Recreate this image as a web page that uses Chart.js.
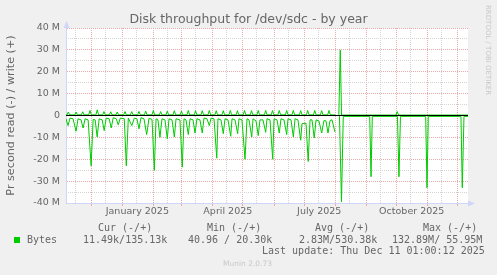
<!DOCTYPE html>
<html>
<head>
<meta charset="utf-8">
<script src="https://cdn.jsdelivr.net/npm/chart.js@4.4.1/dist/chart.umd.min.js"></script>
<style>
  html, body { margin: 0; padding: 0; background: #f0f0f0; }
  #wrap { position: relative; width: 497px; height: 275px; overflow: hidden; }
  #chart { position: absolute; left: 0; top: 0; }
  .txt { position: absolute; white-space: pre; color: #666; }
  .mono { font-family: 'DejaVu Sans Mono', monospace; font-size: 10px; line-height: 12px; }
  #title { left: 0; width: 497px; top: 12px; text-align: center; font: 12.5px/14px 'DejaVu Sans', sans-serif; }
  #rrd { left: 484px; top: 5px; writing-mode: vertical-rl; font: 7px/8px 'DejaVu Sans', sans-serif; color: #c8c8c8; }
  #munin { left: 223px; top: 259px; font: 7.5px/9px 'DejaVu Sans', sans-serif; color: #c8c8c8; }
  #swatch { position: absolute; left: 14px; top: 237px; width: 6px; height: 6px; background: #00cc00; }
</style>
</head>
<body>
<div id="wrap">
  <canvas id="chart" width="497" height="275"></canvas>
  <div id="title" class="txt">Disk throughput for /dev/sdc - by year</div>
  <div id="rrd" class="txt">RRDTOOL / TOBI OETIKER</div>
  <div class="txt mono" style="left:98px; top:222px;">Cur (-/+)</div>
  <div class="txt mono" style="left:207px; top:222px;">Min (-/+)</div>
  <div class="txt mono" style="left:315px; top:222px;">Avg (-/+)</div>
  <div class="txt mono" style="left:423px; top:222px;">Max (-/+)</div>
  <div id="swatch"></div>
  <div class="txt mono" style="left:27px; top:234px;">Bytes</div>
  <div class="txt mono" style="left:83px; top:234px;">11.49k/135.13k</div>
  <div class="txt mono" style="left:188px; top:234px;">40.96 / 20.30k</div>
  <div class="txt mono" style="left:299px; top:234px;">2.83M/530.38k</div>
  <div class="txt mono" style="left:392px; top:234px;">132.89M/ 55.95M</div>
  <div class="txt mono" style="left:262px; top:245px;">Last update: Thu Dec 11 01:00:12 2025</div>
  <div id="munin" class="txt">Munin 2.0.73</div>
</div>
<script>
// x = days since 6 Nov 2024 (400 day window ending 11 Dec 2025), y = MB/s
const dayMin = 0;
const dayMax = 400;

// first day of each month, gets the red grid line
const monthStartDays = [25, 56, 87, 115, 146, 176, 207, 237, 268, 299, 329, 360, 390];
// middle of each month, gray grid line (and the label for quarters)
const midMonthDays = [9, 39, 70, 101, 129, 160, 190, 221, 251, 282, 313, 343, 374];
const labelDays = [71, 161, 252, 344];
const labelTexts = ['January 2025', 'April 2025', 'July 2025', 'October 2025'];

// read (-)
const readDays = [0, 2, 4, 7, 10, 12, 15, 17, 19, 22,
  25, 27, 29, 31, 33, 36, 38, 40, 43, 45,
  47, 50, 52, 54, 58, 60, 62, 65.5, 68, 70.6,
  72.6, 74.6, 77.6, 80.3, 82.6, 85.6, 87.9, 89.6, 91.5, 93.5,
  95.5, 98.5, 100.8, 102.5, 105.5, 107.8, 109.5, 113.4, 115.7, 117.4,
  119.4, 121.7, 123.4, 126.4, 128.4, 130.3, 133.3, 135.6, 137.3, 140.3,
  142.6, 144.3, 147.3, 150, 151.2, 154.2, 156.5, 158.2, 161.2, 163.9,
  165.2, 168.2, 170.8, 172.1, 175.1, 178.1, 180.1, 182.1, 184.8, 186.1,
  189.1, 191.3, 193, 196, 198.7, 200, 203, 205.7, 207, 210,
  212.2, 213.9, 216.9, 219.6, 220.9, 223.9, 226.2, 227.9, 230.8, 233.5,
  234.8, 238.8, 241, 242.8, 244.8, 247, 248.8, 251.7, 254.4, 256.7,
  258.7, 260.7, 262.7, 264.7, 267.6, 269, 272.1, 274.1, 275.9, 302.2,
  303.5, 304.8, 329.8, 331.3, 332.8, 357.9, 359.2, 360.5, 393, 394.3,
  396, 400];
const readVals = [-1.5, -4.6, -1.2, -1.5, -7.2, -1.5, -2, -5.7, -1.5, -2,
  -23, -1.8, -2, -9.8, -1.5, -2, -6.9, -1.2, -1.5, -5.7,
  -1.0, -1.5, -4.3, -1.2, -1.5, -23, -1.2, -4.6, -1.2, -1.5,
  -6.1, -1.0, -1.5, -8.7, -1.3, -1.8, -25, -1.5, -2, -10,
  -1.5, -2, -10.7, -1.5, -2, -9.8, -1.5, -2, -23.6, -1.5,
  -2, -8.7, -1.5, -2, -8, -1.5, -2, -8, -1.2, -1.5,
  -4.6, -1.2, -1.5, -19.5, -1.5, -2, -8.3, -1.5, -2, -9.5,
  -1.5, -2, -8.3, -1.5, -2, -20, -1.5, -2, -9.8, -1.5,
  -2.5, -9.2, -2, -2, -7.7, -1.5, -2, -20, -1.5, -2,
  -8, -1.5, -2, -8.7, -1.5, -2, -9.8, -1.5, -2, -11.3,
  -3.7, -3.5, -21, -2, -2, -10.3, -2, -2.5, -8, -2.3,
  -2.5, -8, -2.3, -2, -7.5, null, -0.3, -39.5, -0.4, -0.4,
  -28, -0.4, -0.4, -28, -0.4, -0.4, -33, -0.4, -0.4, -33,
  -0.4, -0.4];

// write (+)
const writeDays = [0,
  1.0, 2.3, 3.6,   8.7, 10, 11.3,   15.3, 16.6, 17.9,   22.6, 23.9, 25.2,
  29.8, 31.1, 32.4,   36.5, 37.8, 39.1,   43.2, 44.5, 45.8,   49.7, 51, 52.3,
  57.4, 58.7, 60,   64.1, 65.4, 66.7,   71.3, 72.6, 73.9,   78, 79.3, 80.6,
  85.6, 86.9, 88.2,   92.9, 94.2, 95.5,   99.5, 100.8, 102.1,   106.5, 107.8, 109.1,
  113.6, 114.9, 116.2,   120.4, 121.7, 123,   127.6, 128.9, 130.2,   134.3, 135.6, 136.9,
  141.3, 142.6, 143.9,   148.2, 149.5, 150.8,   155.2, 156.5, 157.8,   162.2, 163.5, 164.8,
  169.3, 170.6, 171.9,   176.3, 177.6, 178.9,   183.3, 184.6, 185.9,   190, 191.3, 192.6,
  197.4, 198.7, 200,   204.2, 205.5, 206.8,   210.9, 212.2, 213.5,   218.3, 219.6, 220.9,
  224.9, 226.2, 227.5,   232.2, 233.5, 234.8,   239.2, 240.5, 241.8,   246.2, 247.5, 248.8,
  253.1, 254.4, 255.7,   260.4, 261.7, 263,
  267.6, 269, 271.5, 272.9, 274.2, 328.3, 329.6, 330.9, 400];
const writeVals = [0.3,
  0.3, 1.6, 0.3,   0.3, 1.6, 0.3,   0.3, 1.7, 0.3,   0.3, 2.3, 0.3,
  0.3, 2.6, 0.3,   0.3, 1.8, 0.3,   0.3, 1.7, 0.3,   0.3, 1.6, 0.3,
  0.3, 1.8, 0.3,   0.3, 1.8, 0.3,   0.3, 1.9, 0.3,   0.3, 2.0, 0.3,
  0.3, 2.3, 0.3,   0.3, 1.8, 0.3,   0.3, 2.0, 0.3,   0.3, 2.2, 0.3,
  0.3, 2.0, 0.3,   0.3, 2.3, 0.3,   0.3, 2.2, 0.3,   0.3, 2.2, 0.3,
  0.3, 2.3, 0.3,   0.3, 2.2, 0.3,   0.3, 2.2, 0.3,   0.3, 2.3, 0.3,
  0.3, 2.2, 0.3,   0.3, 2.3, 0.3,   0.3, 2.2, 0.3,   0.3, 2.3, 0.3,
  0.3, 2.3, 0.3,   0.3, 2.3, 0.3,   0.3, 2.3, 0.3,   0.3, 2.3, 0.3,
  0.3, 2.3, 0.3,   0.3, 2.2, 0.3,   0.3, 2.3, 0.3,   0.3, 2.3, 0.3,
  0.3, 2.2, 0.3,   0.3, 2.3, 0.3,
  0.3, null, 0.3, 30, 0.2, 0.2, 1.8, 0.2, 0.2];

const zeroDays = [dayMin, dayMax];
const zeroVals = [0, 0];

const yTicks = [-40, -30, -20, -10, 0, 10, 20, 30, 40];

function toPoints(xs, ys) {
    return xs.map((x, i) => ({ x: x, y: ys[i] }));
}

const plotBackground = {
    id: 'plotBackground',
    beforeDraw(chart) {
        const { ctx, chartArea: a } = chart;
        ctx.save();
        ctx.fillStyle = '#ffffff';
        ctx.fillRect(a.left, a.top, a.right - a.left, a.bottom - a.top);
        ctx.restore();
    }
};

// the little arrows rrdtool puts at the ends of both axes
const axisArrows = {
    id: 'axisArrows',
    afterDraw(chart) {
        const { ctx, chartArea: a } = chart;
        ctx.save();
        ctx.fillStyle = '#cfd6f8';
        ctx.beginPath();
        ctx.moveTo(a.right, a.bottom - 2.5);
        ctx.lineTo(a.right + 7, a.bottom + 0.5);
        ctx.lineTo(a.right, a.bottom + 3.5);
        ctx.closePath();
        ctx.fill();
        ctx.beginPath();
        ctx.moveTo(a.left - 2.5, a.top);
        ctx.lineTo(a.left + 0.5, a.top - 7);
        ctx.lineTo(a.left + 3.5, a.top);
        ctx.closePath();
        ctx.fill();
        ctx.restore();
    }
};

const labelFont = { family: "'DejaVu Sans', sans-serif", size: 9.5 };

new Chart(document.getElementById('chart'), {
    type: 'line',
    data: {
        datasets: [
            {
                label: 'zero',
                data: toPoints(zeroDays, zeroVals),
                borderColor: '#000000',
                borderWidth: 1
            },
            {
                label: 'write',
                data: toPoints(writeDays, writeVals),
                borderColor: '#00cc00',
                borderWidth: 1
            },
            {
                label: 'read',
                data: toPoints(readDays, readVals),
                borderColor: '#00cc00',
                borderWidth: 1
            }
        ]
    },
    options: {
        responsive: false,
        animation: false,
        spanGaps: false,
        elements: { point: { radius: 0 }, line: { tension: 0 } },
        layout: { padding: { left: 0, right: 29, top: 28, bottom: 52 } },
        plugins: { legend: { display: false }, tooltip: { enabled: false } },
        scales: {
            x: {
                type: 'linear',
                min: dayMin,
                max: dayMax,
                weight: 0,
                afterBuildTicks: (scale) => { scale.ticks = monthStartDays.map(v => ({ value: v })); },
                afterFit: (scale) => { scale.height = 0; },
                ticks: { display: false },
                grid: { color: '#eaaaaa', lineWidth: 1, drawTicks: true, tickLength: 3 },
                border: { display: true, color: '#cfd6f8', dash: [1, 1] }
            },
            x2: {
                type: 'linear',
                position: 'bottom',
                min: dayMin,
                max: dayMax,
                weight: 1,
                afterBuildTicks: (scale) => {
                    scale.ticks = midMonthDays.concat(labelDays).map(v => ({ value: v }));
                },
                afterFit: (scale) => { scale.height = 20; },
                ticks: {
                    autoSkip: false,
                    maxRotation: 0,
                    padding: 3,
                    color: '#666666',
                    font: labelFont,
                    callback: (value) => {
                        const i = labelDays.indexOf(value);
                        return i >= 0 ? labelTexts[i] : '';
                    }
                },
                grid: {
                    color: (ctx) => labelDays.indexOf(ctx.tick.value) >= 0 ? 'rgba(0,0,0,0)' : '#d4d4d4',
                    drawTicks: false
                },
                border: { display: false, dash: [1, 1] }
            },
            y: {
                min: -40,
                max: 40,
                weight: 1,
                afterBuildTicks: (scale) => { scale.ticks = yTicks.map(v => ({ value: v })); },
                afterFit: (scale) => { scale.width = 66; },
                ticks: {
                    padding: 6,
                    color: '#666666',
                    font: labelFont,
                    callback: (value) => value === 0 ? '0' : value + ' M'
                },
                grid: { color: '#eaaaaa', drawTicks: false },
                border: { display: true, color: '#cfd6f8', dash: [1, 1] },
                title: {
                    display: true,
                    text: 'Pr second read (-) / write (+)',
                    color: '#666666',
                    font: { family: "'DejaVu Sans', sans-serif", size: 11.2 },
                    padding: { top: 4, bottom: 0 }
                }
            },
            y2: {
                position: 'left',
                min: -40,
                max: 40,
                weight: 0,
                ticks: { display: false, stepSize: 5 },
                afterFit: (scale) => { scale.width = 0; },
                grid: {
                    color: (ctx) => ctx.tick.value % 10 === 0 ? 'rgba(0,0,0,0)' : '#d4d4d4',
                    drawTicks: false
                },
                border: { display: false, dash: [1, 1] }
            }
        }
    },
    plugins: [plotBackground, axisArrows]
});
</script>
</body>
</html>
